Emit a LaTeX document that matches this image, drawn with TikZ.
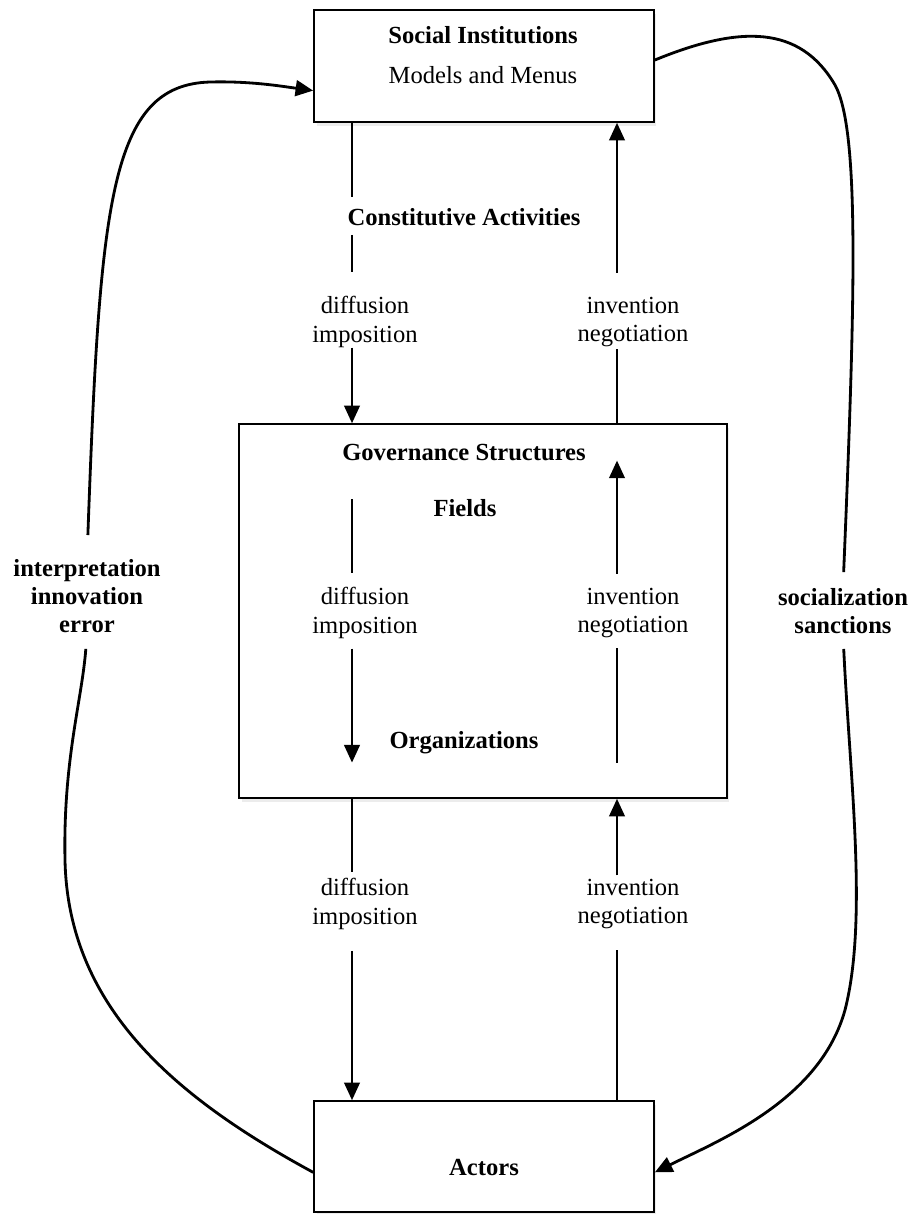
\documentclass[tikz,border=0pt]{standalone}
\usepackage{fontspec}
\setmainfont{Liberation Serif}
\usetikzlibrary{arrows.meta,shadows}

\begin{document}
\begin{tikzpicture}[
    x=0.02cm, y=-0.02cm,
    box/.style={draw, line width=1pt, fill=white, minimum width=6.8cm, inner sep=0pt,
        drop shadow={shadow xshift=0.5mm, shadow yshift=-0.8mm, opacity=0.15}},
    lab/.style={align=center, inner sep=0pt, font=\fontsize{14}{16}\selectfont},
    head/.style={lab, font=\fontsize{14}{16}\selectfont\bfseries},
    flow/.style={line width=0.9pt},
    outer/.style={line width=1.6pt},
    arr/.style={-{Triangle[length=10pt,width=9pt]}}
]
\useasboundingbox (0,0) rectangle (913,1214);

% Riquadri
\node[box, minimum height=2.24cm] (social) at (484,66) {};
\node[box, minimum width=9.76cm, minimum height=7.48cm] (gov) at (483,611) {};
\node[box, minimum height=2.22cm] (actors) at (484,1156.5) {};

% Testi
\node[head] (sit) at (483,35) {Social Institutions};
\node[lab] (mm) at (483,75) {Models and Menus};
\node[head] (cons) at (464,217) {Constitutive Activities};
\node[lab] (dif1) at (365,322) {diffusion\\imposition};
\node[lab] (inv1) at (633,322) {invention\\negotiation};
\node[head] (govt) at (464,452) {Governance Structures};
\node[head] (fields) at (465,508) {Fields};
\node[lab] (dif2) at (365,613) {diffusion\\imposition};
\node[lab] (inv2) at (633,613) {invention\\negotiation};
\node[head] (org) at (464,743) {Organizations};
\node[lab] (dif3) at (365,904) {diffusion\\imposition};
\node[lab] (inv3) at (633,904) {invention\\negotiation};
\node[head] (act) at (484,1167) {Actors};
\node[head] (interp) at (87,596) {interpretation\\innovation\\error};
\node[head] (soc) at (843,611) {socialization\\sanctions};

\coordinate (cl) at (352,0);
\coordinate (cr) at (617,0);

% Frecce verticali, sopra
\draw[flow, shorten >=6pt] (cl |- social.south) -- (cl |- cons.north);
\draw[flow, shorten <=5pt, shorten >=13.6pt] (cl |- cons.south) -- (cl |- dif1.north);
\draw[flow, arr] (cl |- dif1.south) -- (cl |- gov.north);
\draw[flow, shorten >=1pt] (cr |- gov.north) -- (cr |- inv1.south);
\draw[flow, arr, shorten <=13.6pt] (cr |- inv1.north) -- (cr |- social.south);

% Frecce verticali, dentro
\draw[flow, shorten >=8pt] (cl |- fields.north) -- (cl |- dif2.north);
\draw[flow, arr, shorten <=5.7pt, shorten >=-4.5pt] (cl |- dif2.south) -- (cl |- org.south);
\draw[flow, shorten <=-4.5pt, shorten >=5.7pt] (cr |- org.south) -- (cr |- inv2.south);
\draw[flow, arr, shorten <=8pt] (cr |- inv2.north) -- (cr |- govt.south);

% Frecce verticali, sotto
\draw[flow, shorten >=3.4pt] (cl |- gov.south) -- (cl |- dif3.north);
\draw[flow, arr, shorten <=12pt] (cl |- dif3.south) -- (cl |- actors.north);
\draw[flow, shorten >=12pt] (cr |- actors.north) -- (cr |- inv3.south);
\draw[flow, arr, shorten <=2pt] (cr |- inv3.north) -- (cr |- gov.south);

% Curve esterne
\draw[outer, shorten >=9pt] ([yshift=-9pt]actors.west) .. controls (180,1100) and (68,1010) .. (65,860)
    .. controls (63,760) and (82,700) .. (interp.south);
\draw[outer, arr, shorten <=13.6pt] (interp.north) .. controls (100,200) and (110,85) .. (210,82)
    .. controls (250,81) and (280,86) .. ([yshift=-14pt]social.west);
\draw[outer, shorten >=9pt] ([yshift=3.4pt]social.east) .. controls (740,25) and (800,25) .. (835,85)
    .. controls (860,130) and (855,300) .. (soc.north);
\draw[outer, arr, shorten <=8.5pt] (soc.south) .. controls (850,780) and (868,920) .. (845,1010)
    .. controls (820,1100) and (720,1140) .. ([yshift=-9pt]actors.east);
\end{tikzpicture}
\end{document}
